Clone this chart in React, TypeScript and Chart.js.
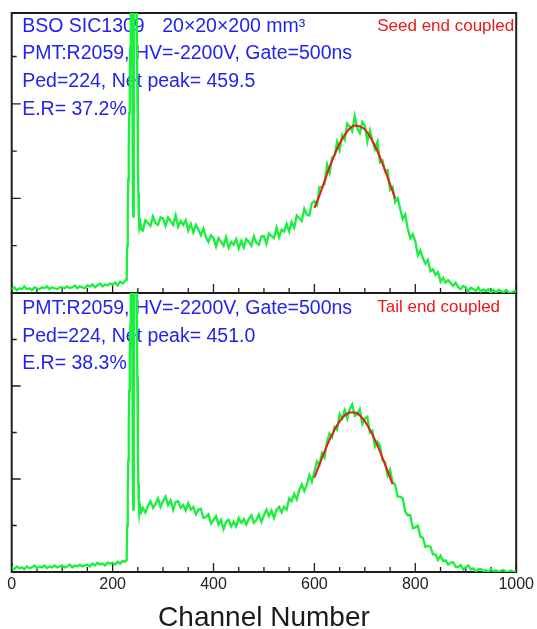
import React, { useEffect, useRef } from "react";
import { Chart, registerables } from "chart.js";

Chart.register(...registerables);

// ---- x categories (channel numbers) ----
const LOW_CHANNELS = Array.from({ length: 46 }, (_, i) => i * 5); // 0..225
const PED_CHANNELS = [
  227, 228, 229, 230, 231, 232, 233, 234, 235, 236, 237, 238, 239, 240, 241,
  242, 243, 244, 245, 246, 247, 248, 249, 250, 251, 252, 253, 255, 257,
];
const HIGH_CHANNELS = Array.from({ length: 149 }, (_, i) => 260 + i * 5); // 260..1000

// ---- top spectrum (seed end coupled) ----
const TOP_LOW = [
  4, 6, 3, 5, 4, 7, 4, 5, 3, 6,
  5, 4, 6, 5, 7, 4, 6, 5, 4, 6,
  6, 5, 7, 5, 6, 8, 5, 7, 6, 5,
  8, 7, 9, 6, 8, 10, 7, 9, 8, 10,
  9, 11, 8, 12, 10, 13,
];
const TOP_PED = [
  14, 20, 50, 85, 120, 155, 190, 225, 260, 295, 330, 340, 250, 120, 81,
  180, 320, 360, 380, 370, 350, 300, 220, 150, 105, 80, 69, 74, 67,
];
const TOP_HIGH = [
  66, 77, 74, 71, 81, 74, 72, 80, 79, 71,
  80, 76, 72, 82, 70, 76, 72, 77, 66, 73,
  64, 72, 67, 61, 68, 59, 54, 61, 58, 49,
  58, 54, 50, 59, 48, 54, 51, 57, 47, 55,
  48, 57, 54, 50, 60, 53, 51, 60, 60, 52,
  63, 60, 58, 69, 59, 67, 65, 73, 65, 75,
  69, 82, 79, 76, 89, 83, 82, 95, 97, 93,
  112, 112, 115, 136, 127, 143, 146, 160, 151, 167,
  162, 179, 176, 171, 187, 174, 169, 181, 177, 160,
  172, 161, 152, 160, 138, 140, 129, 130, 109, 112,
  96, 100, 89, 78, 83, 68, 58, 62, 55, 40,
  45, 37, 31, 35, 23, 25, 19, 22, 12, 16,
  11, 13.5, 10.5, 7.5, 11, 6, 4, 7.5, 6, 1.5,
  5.6, 4, 2.3, 5.8, 1.4, 3.8, 2.1, 4, 0, 3.2,
  0.8, 3.5, 1.8, 0.6, 3.3, 0.7, 0, 1.9, 1.6,
];

// ---- bottom spectrum (tail end coupled) ----
const BOT_LOW = [
  5, 3, 6, 4, 5, 3, 6, 4, 5, 7,
  4, 6, 5, 7, 4, 6, 5, 7, 5, 6,
  7, 5, 6, 8, 5, 7, 6, 8, 6, 7,
  8, 6, 9, 7, 10, 8, 9, 7, 10, 9,
  10, 8, 11, 9, 12, 11,
];
const BOT_PED = [
  13, 18, 50, 85, 120, 160, 195, 230, 265, 300, 330, 340, 240, 110, 67,
  170, 320, 360, 380, 370, 350, 300, 210, 140, 95, 70, 62, 70, 65,
];
const BOT_HIGH = [
  69, 64, 71, 76, 69, 73, 79, 70, 76, 81,
  72, 77, 67, 75, 76, 69, 72, 66, 74, 67,
  70, 62, 67, 68, 58, 59, 62, 52, 56, 60,
  51, 56, 46, 54, 56, 49, 54, 49, 58, 53,
  57, 51, 57, 61, 53, 56, 62, 54, 61, 67,
  60, 66, 58, 67, 70, 64, 70, 67, 79, 76,
  84, 78, 88, 94, 87, 94, 104, 97, 108, 119,
  115, 128, 123, 140, 149, 145, 156, 153, 170, 165,
  174, 165, 175, 180, 168, 170, 175, 159, 165, 167,
  150, 152, 135, 140, 136, 120, 118, 104, 110, 96,
  94, 81, 81, 79, 65, 61, 61, 47, 48, 50,
  38, 37, 27, 28, 27, 19, 19, 13, 17.5, 12,
  12.5, 8, 10, 10.5, 5.5, 5.5, 7.5, 2.5, 5, 7,
  2.9, 3.9, 0.7, 2.8, 3.2, 0.9, 1.8, 0.1, 2.7, 0.8,
  1.75, 0, 1.5, 2.15, 0.05, 0.45, 1.6, 0, 0.75,
];

// ---- gaussian fits ----
const FIT_TOP_CH = [600, 610, 620, 630, 640, 650, 660, 670, 680, 690, 700, 710, 720, 730, 740, 750, 760];
const FIT_TOP = [90, 103, 118, 133, 146, 158, 167, 174, 177, 176, 173, 165.5, 155.6, 143.5, 129.7, 115, 100];
const FIT_BOT_CH = [600, 610, 620, 630, 640, 650, 660, 670, 680, 690, 700, 710, 720, 730, 740, 750, 755];
const FIT_BOT = [101.5, 115.7, 129.5, 142, 153, 162, 168.4, 171.6, 171.6, 168.4, 162, 153, 142, 129.5, 115.7, 101.5, 94.4];

// ---- ticks ----
const X_MAJOR_STEP = 200;
const X_MINOR_STEP = 50;
const Y_MINOR_TICKS = [50, 100, 150, 200, 250];
const Y_MAJOR_EVERY = 100;

// ---- annotations ----
const TOP_INFO = ["PMT:R2059, HV=-2200V, Gate=500ns", "Ped=224, Net peak= 459.5", "E.R= 37.2%"];
const BOT_INFO = ["PMT:R2059, HV=-2200V, Gate=500ns", "Ped=224, Net peak= 451.0", "E.R= 38.3%"];
const TOP_TITLE_A = "BSO SIC1309";
const TOP_TITLE_B = "20×20×200 mm³";
const TOP_TAG = "Seed end coupled";
const BOT_TAG = "Tail end coupled";

const GREEN = "rgb(25,240,60)";
const RED = "rgb(235,25,25)";
const BLUE = "rgb(35,35,240)";
const FONT = "'Liberation Sans', Arial, Helvetica, sans-serif";

function buildSpectrum(low: number[], ped: number[], high: number[]) {
  const pts: { x: number; y: number }[] = [];
  LOW_CHANNELS.forEach((c, i) => pts.push({ x: c, y: low[i] }));
  PED_CHANNELS.forEach((c, i) => pts.push({ x: c, y: ped[i] }));
  HIGH_CHANNELS.forEach((c, i) => pts.push({ x: c, y: high[i] }));
  return pts;
}

const panelPlugin = {
  id: "panelDecor",
  beforeDatasetsDraw(chart: any) {
    const ctx = chart.ctx as CanvasRenderingContext2D;
    const { left, right } = chart.chartArea;
    const xs = chart.scales.x;
    ctx.save();
    for (const id of ["yTop", "yBot"]) {
      const ys = chart.scales[id];
      ctx.strokeStyle = "#1e1e1e";
      ctx.lineWidth = 1.3;
      ctx.beginPath();
      for (let v = 0; v <= 1000; v += X_MINOR_STEP) {
        const px = xs.getPixelForValue(v);
        const len = v % X_MAJOR_STEP === 0 ? 9 : 5;
        ctx.moveTo(px, ys.bottom);
        ctx.lineTo(px, ys.bottom - len);
      }
      for (const v of Y_MINOR_TICKS) {
        const py = ys.getPixelForValue(v);
        const len = v % Y_MAJOR_EVERY === 0 ? 9 : 5;
        ctx.moveTo(left, py);
        ctx.lineTo(left + len, py);
      }
      ctx.stroke();
      ctx.lineWidth = 2;
      ctx.strokeRect(left, ys.top, right - left, ys.bottom - ys.top);
    }

    const yTop = chart.scales.yTop;
    const yBot = chart.scales.yBot;
    ctx.textBaseline = "alphabetic";
    ctx.textAlign = "left";
    ctx.fillStyle = BLUE;
    ctx.font = `19.5px ${FONT}`;
    const tx = left + 10.5;
    ctx.fillText(TOP_TITLE_A, tx, yTop.top + 19);
    ctx.fillText(TOP_TITLE_B, left + 150.5, yTop.top + 19);
    TOP_INFO.forEach((t, i) => ctx.fillText(t, tx, yTop.top + 46 + i * 28));
    BOT_INFO.forEach((t, i) => ctx.fillText(t, tx, yBot.top + 21 + i * 27.5));
    ctx.fillStyle = RED;
    ctx.font = `17px ${FONT}`;
    ctx.fillText(TOP_TAG, left + 365.5, yTop.top + 18);
    ctx.fillText(BOT_TAG, left + 365.5, yBot.top + 19);
    ctx.restore();
  },
};

export default function App() {
  const ref = useRef<HTMLCanvasElement | null>(null);
  useEffect(() => {
    if (!ref.current) return;
    const common = { pointRadius: 0, pointHoverRadius: 0, fill: false };
    const hiddenY = {
      type: "linear",
      position: "left",
      stack: "panels",
      ticks: { display: false },
      grid: { display: false, drawTicks: false, tickLength: 0 },
      border: { display: false },
    };
    const chart = new Chart(ref.current, {
      type: "line",
      data: {
        datasets: [
          {
            ...common,
            label: "fit top",
            data: FIT_TOP_CH.map((c, i) => ({ x: c, y: FIT_TOP[i] })),
            yAxisID: "yTop",
            borderColor: RED,
            borderWidth: 2,
            cubicInterpolationMode: "monotone",
          },
          {
            ...common,
            label: "fit bottom",
            data: FIT_BOT_CH.map((c, i) => ({ x: c, y: FIT_BOT[i] })),
            yAxisID: "yBot",
            borderColor: RED,
            borderWidth: 2,
            cubicInterpolationMode: "monotone",
          },
          {
            ...common,
            label: "seed end",
            data: buildSpectrum(TOP_LOW, TOP_PED, TOP_HIGH),
            yAxisID: "yTop",
            borderColor: GREEN,
            borderWidth: 2.3,
          },
          {
            ...common,
            label: "tail end",
            data: buildSpectrum(BOT_LOW, BOT_PED, BOT_HIGH),
            yAxisID: "yBot",
            borderColor: GREEN,
            borderWidth: 2.3,
          },
        ],
      } as any,
      options: {
        animation: false,
        responsive: false,
        maintainAspectRatio: false,
        layout: { padding: { left: 11.7, right: 19.5, top: 13, bottom: 0 } },
        plugins: { legend: { display: false }, tooltip: { enabled: false } },
        scales: {
          x: {
            type: "linear",
            min: 0,
            max: 1000,
            grid: { display: false, drawTicks: false, tickLength: 0 },
            border: { display: false },
            ticks: {
              stepSize: X_MAJOR_STEP,
              autoSkip: false,
              maxRotation: 0,
              padding: 3,
              color: "#222",
              font: { family: FONT, size: 16 },
              callback: (v: any) => String(v),
            },
            title: {
              display: true,
              text: "Channel Number",
              color: "#1a1a1a",
              padding: 0,
              font: { family: FONT, size: 28, lineHeight: 0.8 },
            },
            afterFit: (s: any) => {
              s.height = 57;
            },
          },
          yBot: { ...hiddenY, stackWeight: 279, min: 0, max: 300 },
          yTop: { ...hiddenY, stackWeight: 280, min: 0, max: 296 },
        },
      } as any,
      plugins: [panelPlugin],
    });
    return () => chart.destroy();
  }, []);

  return (
    <div style={{ position: "fixed", left: 0, top: 0, width: 537, height: 629, background: "#fff" }}>
      <canvas ref={ref} width={537} height={629} style={{ display: "block" }} />
    </div>
  );
}
